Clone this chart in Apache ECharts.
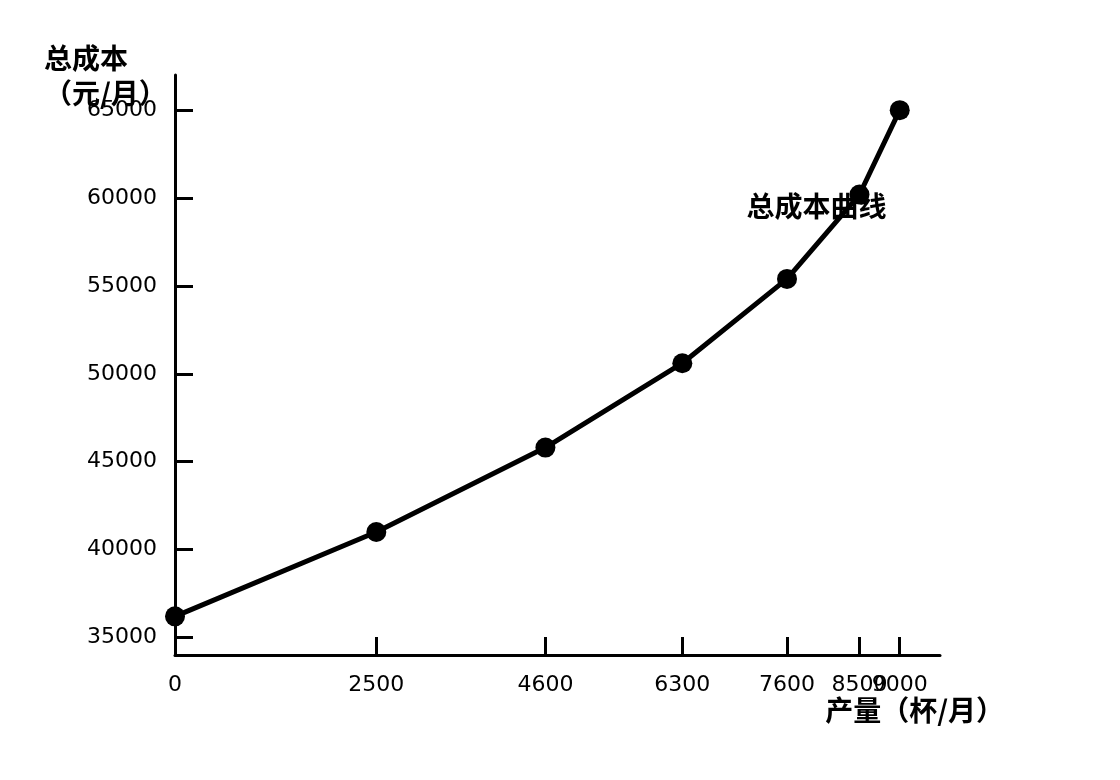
<!DOCTYPE html>
<html>
<head>
<meta charset="utf-8">
<script src="https://cdn.jsdelivr.net/npm/echarts@6/dist/echarts.min.js"></script>
<style>html,body{margin:0;padding:0;background:#fff}#c{width:1120px;height:780px}</style>
</head>
<body>
<div id="c"></div>
<script>
const outputs = [0, 2500, 4600, 6300, 7600, 8500, 9000];
const totalCost = [36200, 41000, 45800, 50600, 55400, 60200, 65000];
const yTicks = [35000, 40000, 45000, 50000, 55000, 60000, 65000];
const xTicksMain = [0, 2500, 4600, 6300, 7600, 9000];
const xTicksExtra = [8500];
const seriesName = '总成本曲线';
const xName = '产量（杯/月）';
const yName = '总成本\n（元/月）';
const labelIndex = 5;

const chart = echarts.init(document.getElementById('c'));
const numFont = 'DejaVu Sans';
const cjkFont = 'Noto Sans CJK SC';
const tickStyle = {show: true, inside: true, length: 18, lineStyle: {color: '#000', width: 3}};
const labelBase = {hideOverlap: false, showMaxLabel: true, showMinLabel: true,
  formatter: v => String(v), color: '#000', fontFamily: numFont, fontSize: 22, margin: 19};
chart.setOption({
  animation: false,
  grid: {left: 175, right: 180, top: 75, bottom: 125},
  graphic: [
    {type: 'text', left: 44, top: 41, style: {text: yName, font: 'bold 28px "Noto Sans CJK SC"', fill: '#000', lineHeight: 35}},
    {type: 'text', x: 1004, y: 710, style: {text: xName, font: 'bold 28px "Noto Sans CJK SC"', fill: '#000', align: 'right', verticalAlign: 'middle'}}
  ],
  xAxis: [{
    type: 'value', min: 0, max: 9500,
    splitLine: {show: false},
    axisLine: {lineStyle: {color: '#000', width: 3}},
    axisTick: Object.assign({customValues: xTicksMain}, tickStyle),
    axisLabel: Object.assign({customValues: xTicksMain}, labelBase)
  }, {
    type: 'value', min: 0, max: 9500, position: 'bottom',
    splitLine: {show: false},
    axisLine: {show: false},
    axisTick: Object.assign({customValues: xTicksExtra}, tickStyle),
    axisLabel: Object.assign({customValues: xTicksExtra}, labelBase)
  }],
  yAxis: {
    type: 'value', min: 34000, max: 67000,
    splitLine: {show: false},
    axisLine: {lineStyle: {color: '#000', width: 3}},
    axisTick: Object.assign({customValues: yTicks}, tickStyle),
    axisLabel: Object.assign({customValues: yTicks}, labelBase, {margin: 18})
  },
  series: [{
    name: seriesName,
    type: 'line',
    xAxisIndex: 0,
    data: outputs.map((x, i) => {
      const d = {value: [x, totalCost[i]]};
      if (i === labelIndex) {
        d.label = {show: true, formatter: seriesName, position: 'inside', offset: [-43, 12],
          fontFamily: cjkFont, fontWeight: 'bold', fontSize: 28, color: '#000'};
      }
      return d;
    }),
    symbol: 'circle', symbolSize: 20,
    itemStyle: {color: '#000'},
    lineStyle: {color: '#000', width: 5},
    label: {show: false}
  }]
});
</script>
</body>
</html>
